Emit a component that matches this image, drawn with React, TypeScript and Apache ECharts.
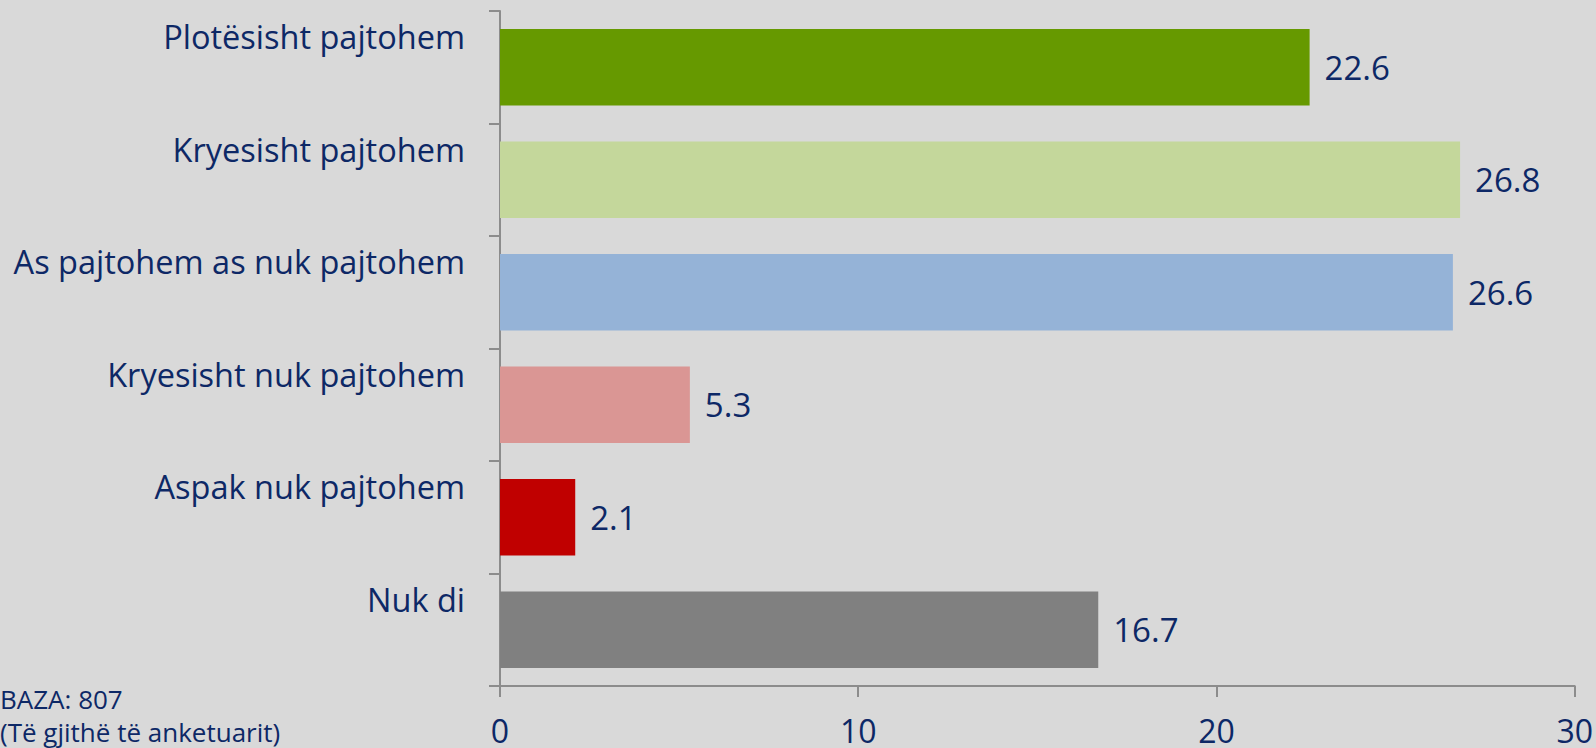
import React, { useEffect, useRef } from "react";
import * as echarts from "echarts";

const categories = [
  "Plotësisht pajtohem",
  "Kryesisht pajtohem",
  "As pajtohem as nuk pajtohem",
  "Kryesisht nuk pajtohem",
  "Aspak nuk pajtohem",
  "Nuk di",
];
const values = [22.6, 26.8, 26.6, 5.3, 2.1, 16.7];
const barColors = ["#669900", "#c4d79b", "#95b3d7", "#da9694", "#c00000", "#808080"];
const xTicks = { min: 0, max: 30, interval: 10 };
const noteLines = ["BAZA: 807", "(Të gjithë të anketuarit)"];

const TEXT = "#0d2866";
const FONT = "'Open Sans', sans-serif";

export default function App() {
  const ref = useRef<HTMLDivElement>(null);
  useEffect(() => {
    document.body.style.margin = "0";
    const chart = echarts.init(ref.current!, null, { renderer: "svg" });
    chart.setOption({
      animation: false,
      backgroundColor: "#d9d9d9",
      grid: { left: 500, right: 21, top: 11, bottom: 62, containLabel: false },
      xAxis: {
        type: "value",
        min: xTicks.min,
        max: xTicks.max,
        interval: xTicks.interval,
        axisLine: { show: true, lineStyle: { color: "#8c8c8c", width: 2 } },
        axisTick: { show: true, length: 11, lineStyle: { color: "#8c8c8c", width: 2 } },
        splitLine: { show: false },
        axisLabel: { color: TEXT, fontSize: 32, lineHeight: 32, fontFamily: FONT, margin: 28 },
      },
      yAxis: {
        type: "category",
        data: categories,
        inverse: true,
        axisLine: { show: true, lineStyle: { color: "#8c8c8c", width: 2 } },
        axisTick: { show: true, length: 11, lineStyle: { color: "#8c8c8c", width: 2 } },
        axisLabel: {
          interval: 0,
          hideOverlap: false,
          color: TEXT,
          fontSize: 32.5,
          fontFamily: FONT,
          margin: 35,
          verticalAlign: "middle",
          formatter: (v: string) => `{a|${v}}\n{b|}`,
          rich: {
            a: { fontSize: 32.5, fontFamily: FONT, color: TEXT, lineHeight: 40 },
            b: { lineHeight: 61 },
          },
        },
      },
      series: [
        {
          type: "bar",
          data: values.map((v, i) => ({ value: v, itemStyle: { color: barColors[i] } })),
          barCategoryGap: "32%",
          label: {
            show: true,
            position: "right",
            distance: 15,
            color: TEXT,
            fontSize: 33,
            fontFamily: FONT,
            formatter: (p: any) => p.value.toFixed(1),
          },
        },
      ],
      graphic: noteLines.map((t, i) => ({
        type: "text",
        left: 0,
        top: 685 + i * 33,
        style: {
          text: t,
          fill: TEXT,
          font: `26px ${FONT}`,
          lineHeight: 28,
        },
      })),
    });
    return () => chart.dispose();
  }, []);
  return <div ref={ref} style={{ width: 1596, height: 748 }} />;
}
